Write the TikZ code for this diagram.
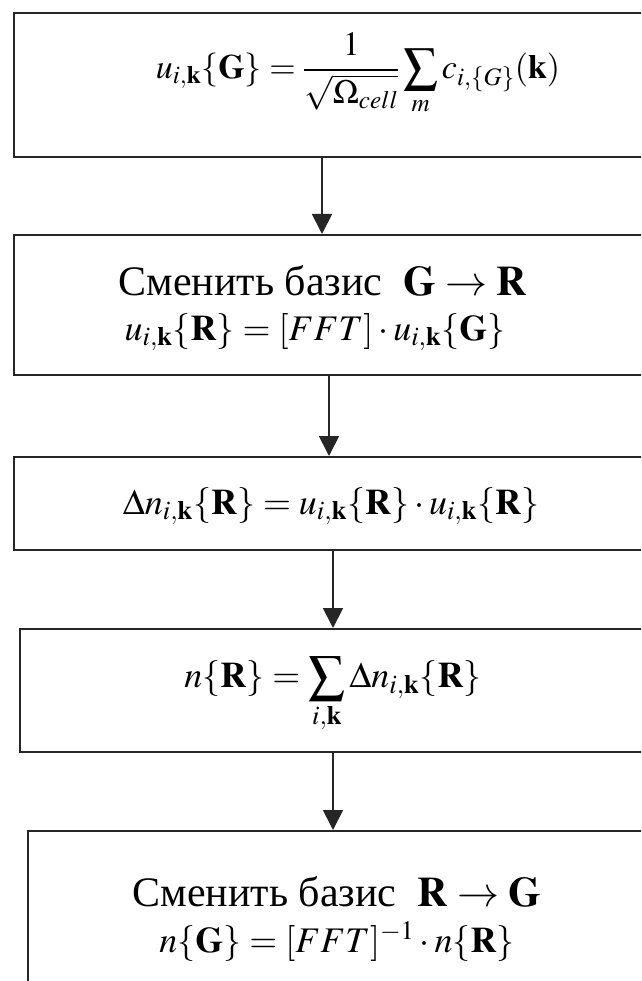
\documentclass[tikz,border=0pt]{standalone}
\usepackage{mathptmx}
\usepackage{fontspec}
\setmainfont{Liberation Serif}
\usetikzlibrary{arrows.meta}

\begin{document}
\begin{tikzpicture}[x=1pt,y=-1pt,
    box/.style={draw=black!85,line width=1.6pt,rectangle,anchor=north west,inner sep=0pt},
    formula/.style={font=\fontsize{36}{46}\selectfont,inner sep=0pt},
    caption/.style={font=\fontsize{42}{46}\selectfont,inner sep=0pt},
    arr/.style={draw=black!85,line width=1.8pt,-{Triangle[width=20pt,length=20pt]}}]
            \useasboundingbox (0,0) rectangle (641,981);
            \clip (0,0) rectangle (641,981);

            \coordinate (c1) at (322,0);
            \coordinate (c2) at (329,0);
            \coordinate (c3) at (333,0);
            \coordinate (c4) at (333,0);

            \node[box,minimum width=720pt,minimum height=144pt] (b1) at (13,12) {};
            \node[box,minimum width=720pt,minimum height=140pt] (b2) at (13,234) {};
            \node[box,minimum width=720pt,minimum height=93pt] (b3) at (13,456) {};
            \node[box,minimum width=720pt,minimum height=123pt] (b4) at (19,628) {};
            \node[box,minimum width=720pt,minimum height=220pt] (b5) at (27,830) {};

            \node[formula,font=\fontsize{34}{44}\selectfont] (t1) at (358,74) {$\displaystyle u_{i,\mathbf{k}}\{\mathbf{G}\}=\frac{1}{\sqrt{\Omega_{cell}}}\sum_{m}c_{i,\{G\}}(\mathbf{k})$};
            \node[caption] (t2) at (323,281) {Сменить базис\ \ $\mathbf{G}\rightarrow\mathbf{R}$};
            \node[formula] (t2m) at (315,332) {$u_{i,\mathbf{k}}\{\mathbf{R}\}=[FFT]\cdot u_{i,\mathbf{k}}\{\mathbf{G}\}$};
            \node[formula] (t3) at (331,506) {$\Delta n_{i,\mathbf{k}}\{\mathbf{R}\}=u_{i,\mathbf{k}}\{\mathbf{R}\}\cdot u_{i,\mathbf{k}}\{\mathbf{R}\}$};
            \node[formula] (t4) at (333,695) {$\displaystyle n\{\mathbf{R}\}=\sum_{i,\mathbf{k}}\Delta n_{i,\mathbf{k}}\{\mathbf{R}\}$};
            \node[caption] (t5) at (337,892) {Сменить базис\ \ $\mathbf{R}\rightarrow\mathbf{G}$};
            \node[formula] (t5m) at (337,942) {$n\{\mathbf{G}\}=[FFT]^{-1}\cdot n\{\mathbf{R}\}$};

            \draw[arr] (b1.south -| c1) -- (b2.north -| c1);
            \draw[arr] (b2.south -| c2) -- (b3.north -| c2);
            \draw[arr] (b3.south -| c3) -- (b4.north -| c3);
            \draw[arr] (b4.south -| c4) -- (b5.north -| c4);
        \end{tikzpicture}
\end{document}
